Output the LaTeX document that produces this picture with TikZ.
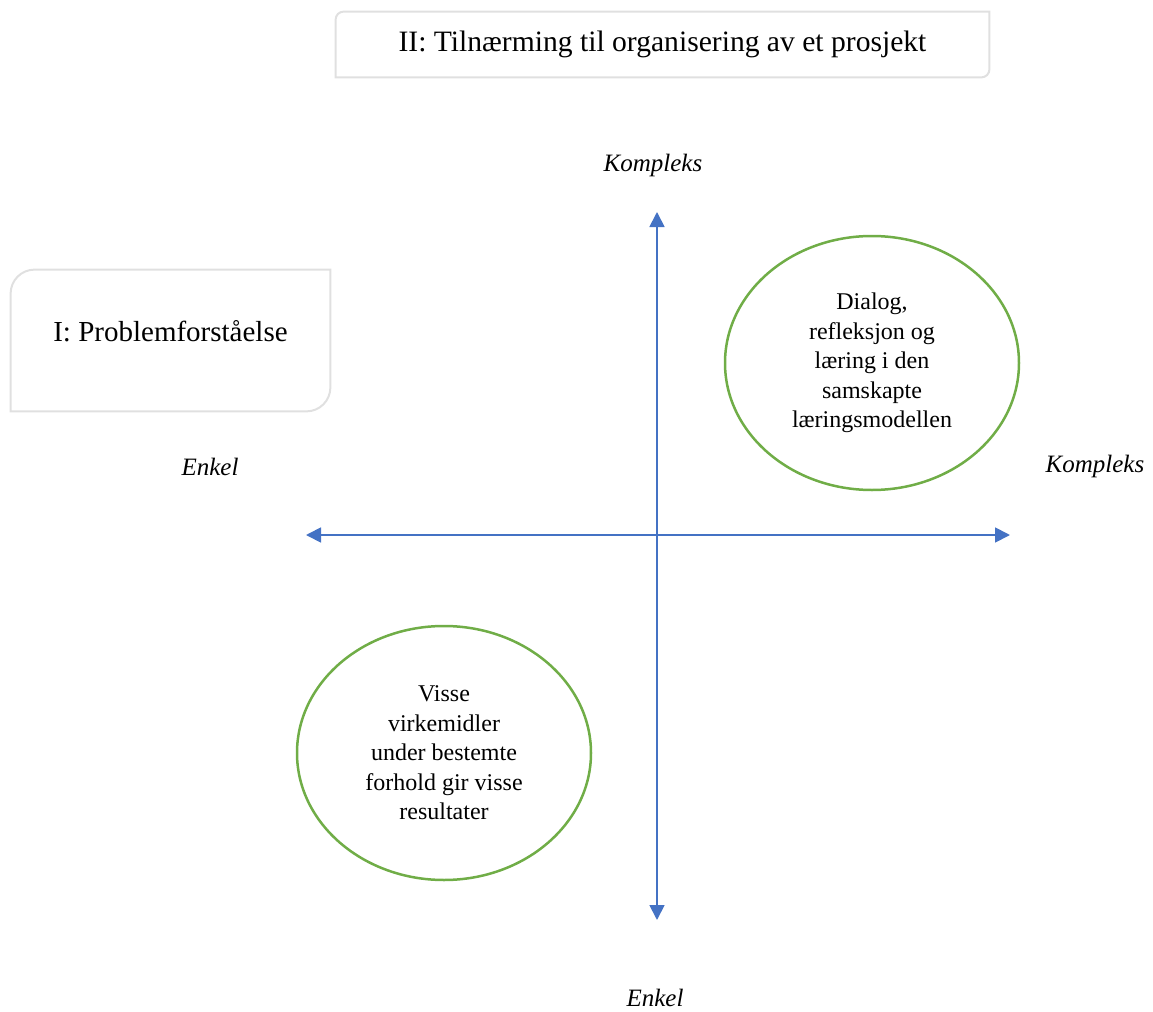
\documentclass[tikz,border=0pt]{standalone}
\usepackage{fontspec}
\setmainfont{Liberation Serif}
\usetikzlibrary{shapes.geometric, arrows.meta}
\definecolor{axisblue}{RGB}{68, 114, 196}
\definecolor{leafgreen}{RGB}{112, 173, 71}
\definecolor{framegray}{RGB}{224, 224, 224}

\begin{document}
\begin{tikzpicture}[x=0.5pt, y=-0.5pt,
            frame/.style={draw=framegray, line width=1pt},
            heading/.style={font=\fontsize{14.5}{17}\selectfont, inner sep=0pt},
            axislabel/.style={font=\fontsize{12.5}{15}\selectfont\itshape},
            zone/.style={draw=leafgreen, line width=1.25pt, ellipse, minimum width=147pt, minimum height=127pt, inner sep=0pt, align=center, font=\fontsize{12}{14.75}\selectfont},
            axis/.style={axisblue, line width=0.9pt, {Triangle[length=7.5pt, width=7.5pt]}-{Triangle[length=7.5pt, width=7.5pt]}}
        ]
            \useasboundingbox (0,0) rectangle (1153,1012);

            % boxes with two rounded corners
            \node[heading, font=\fontsize{14.8}{17}\selectfont, minimum width=326.5pt, minimum height=32.5pt] (approach) at (662.5,44.5) {II: Tilnærming til organisering av et prosjekt};
            \node[minimum width=159.5pt, minimum height=70.5pt, inner sep=0pt] (problem) at (170.5,340.5) {};
            \node[heading] (problemtext) at (170.5,331) {I: Problemforståelse};

            \draw[frame] (approach.south west) -- ([yshift=-4pt]approach.north west) arc[start angle=180, end angle=90, radius=4pt] -- (approach.north east) -- ([yshift=4pt]approach.south east) arc[start angle=0, end angle=-90, radius=4pt] -- cycle;
            \draw[frame] (problem.south west) -- ([yshift=-12pt]problem.north west) arc[start angle=180, end angle=90, radius=12pt] -- (problem.north east) -- ([yshift=12pt]problem.south east) arc[start angle=0, end angle=-90, radius=12pt] -- cycle;

            % axes
            \coordinate (vtop) at (657,212);
            \coordinate (vbot) at (657,920);
            \coordinate (hleft) at (306,535);
            \coordinate (hright) at (1010,535);
            \draw[axis] (vbot) -- (vtop);
            \draw[axis] (hleft) -- (hright);

            \node[axislabel] (complextop) at (653,165) {Kompleks};
            \node[axislabel] (complexright) at (1095,466) {Kompleks};
            \node[axislabel] (simpleleft) at (210,467) {Enkel};
            \node[axislabel] (simplebottom) at (655,998) {Enkel};

            % quadrant ellipses
            \node[zone] (dialogue) at (872,363) {Dialog,\\refleksjon og\\læring i den\\samskapte\\læringsmodellen};
            \node[zone] (means) at (444,753) {Visse\\virkemidler\\under bestemte\\forhold gir visse\\resultater};
        \end{tikzpicture}
\end{document}
